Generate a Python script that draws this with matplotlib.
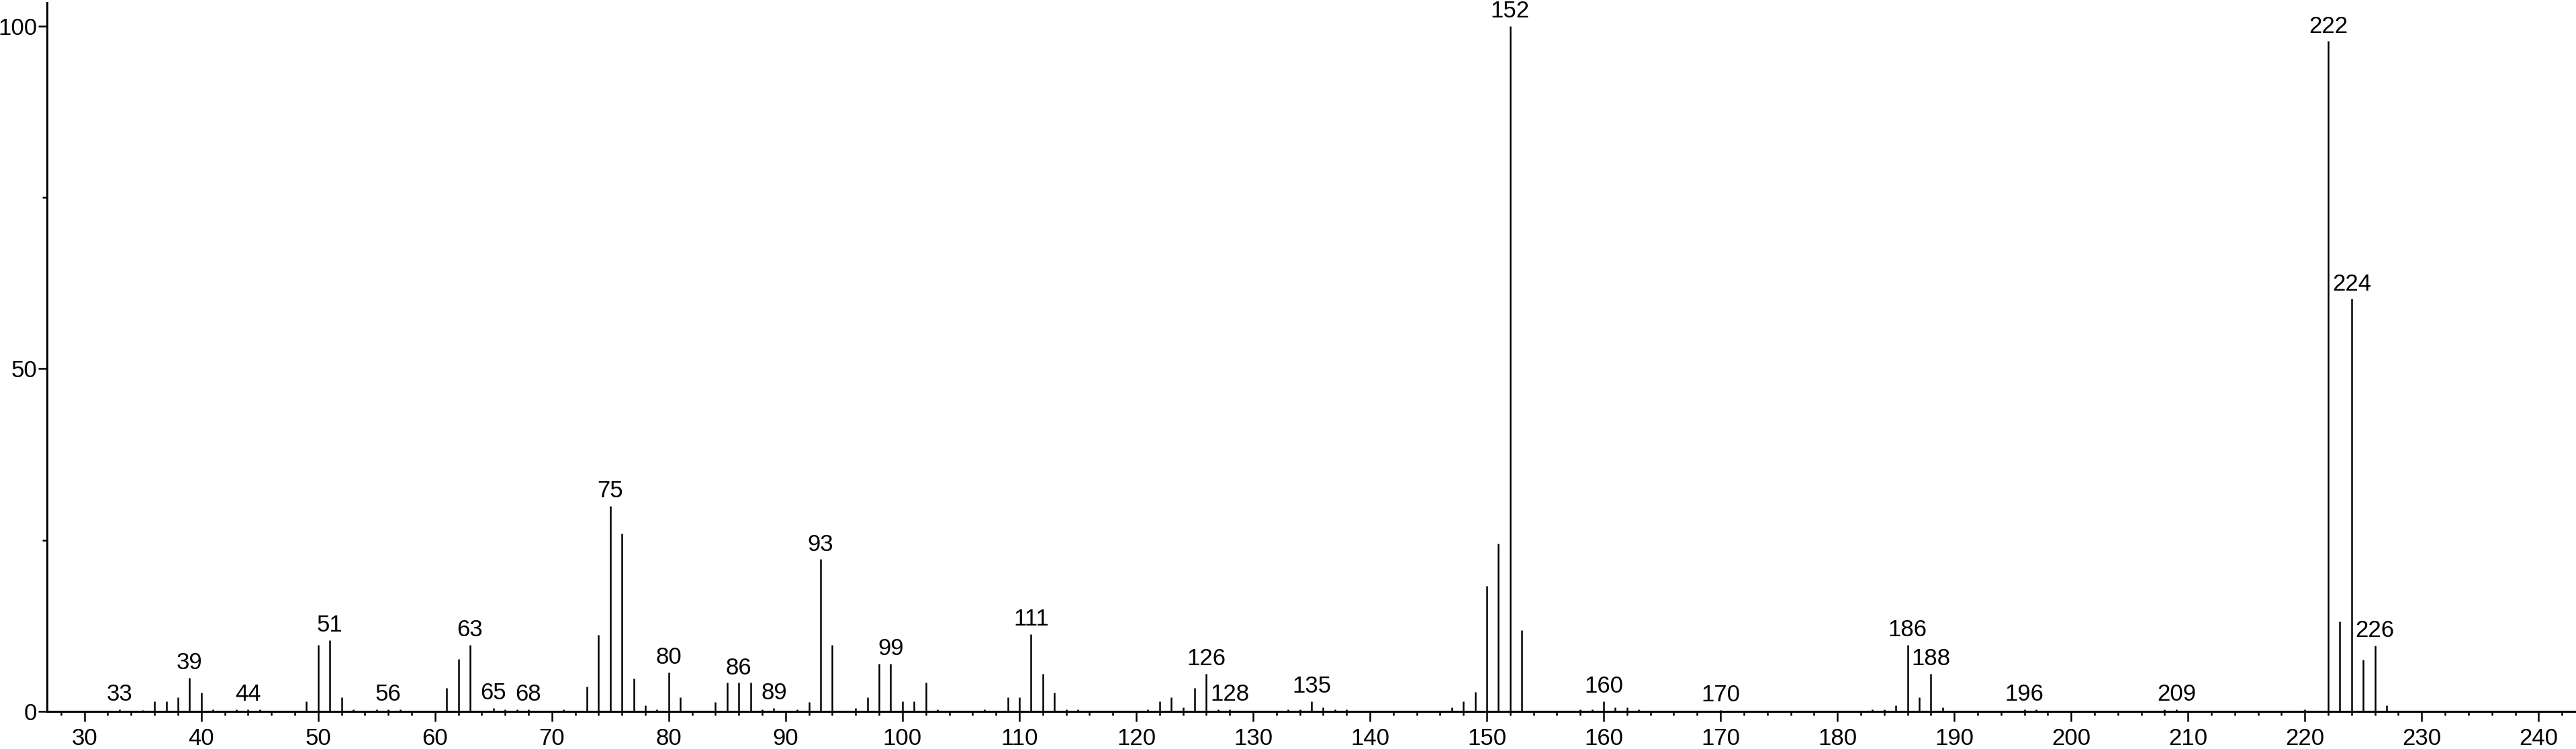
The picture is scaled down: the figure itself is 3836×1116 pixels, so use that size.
import matplotlib.pyplot as plt
from matplotlib.ticker import MultipleLocator

# m/z and relative intensity
mz = [33, 35, 36, 37, 38, 39, 40, 41, 43, 44, 45, 49, 50, 51, 52, 53, 55, 56, 57,
      61, 62, 63, 65, 66, 67, 68, 71, 73, 74, 75, 76, 77, 78, 79, 80, 81,
      84, 85, 86, 87, 88, 89, 91, 92, 93, 94, 96, 97, 98, 99, 100, 101, 102, 103,
      107, 109, 110, 111, 112, 113, 114, 115, 121, 122, 123, 124, 125, 126, 127, 128,
      133, 134, 135, 136, 137, 138, 147, 148, 149, 150, 151, 152, 153,
      158, 159, 160, 161, 162, 163, 170, 183, 184, 185, 186, 187, 188, 189,
      196, 197, 208, 209, 220, 222, 223, 224, 225, 226, 227]
intensity = [0.3, 0.2, 1.5, 1.5, 2.1, 4.9, 2.7, 0.3, 0.3, 0.3, 0.3, 1.5, 9.7, 10.4, 2.1, 0.3, 0.3, 0.3, 0.3,
             3.4, 7.6, 9.7, 0.5, 0.3, 0.3, 0.3, 0.3, 3.6, 11.2, 30.0, 25.9, 4.8, 0.85, 0.3, 5.7, 2.1,
             1.4, 4.2, 4.2, 4.2, 0.3, 0.5, 0.3, 1.4, 22.2, 9.7, 0.5, 2.1, 7.0, 7.0, 1.5, 1.5, 4.2, 0.3,
             0.3, 2.1, 2.1, 11.3, 5.5, 2.7, 0.3, 0.3, 0.3, 1.5, 2.1, 0.6, 3.4, 5.5, 0.3, 0.3,
             0.3, 0.3, 1.5, 0.6, 0.3, 0.3, 0.55, 1.5, 2.8, 18.3, 24.5, 100.0, 11.8,
             0.3, 0.3, 1.5, 0.6, 0.6, 0.3, 0.2, 0.3, 0.3, 0.9, 9.7, 2.1, 5.5, 0.6,
             0.3, 0.3, 0.3, 0.3, 0.3, 97.8, 13.1, 60.2, 7.5, 9.6, 0.9]

labelled = [33, 39, 44, 51, 56, 63, 65, 68, 75, 80, 86, 89, 93, 99, 111, 126, 128, 135,
            152, 160, 170, 186, 188, 196, 209, 222, 224, 226]

plt.rcParams['font.family'] = ['Liberation Sans', 'DejaVu Sans']

fig = plt.figure(figsize=(38.36, 11.16), dpi=100)
ax = fig.add_axes([70 / 3836, 56 / 1116, (3836 - 70) / 3836, 1056 / 1116])

ax.vlines(mz, 0, intensity, color="black", linewidth=1.8)

lookup = dict(zip(mz, intensity))
for m in labelled:
    ax.annotate(str(m), (m, lookup[m]), xytext=(0, 4), textcoords="offset points",
                ha="center", va="bottom", fontsize=25)

ax.set_xlim(26.8, 243.2)
ax.set_ylim(0, 103.4)

ax.xaxis.set_major_locator(MultipleLocator(10))
ax.xaxis.set_minor_locator(MultipleLocator(2))
ax.yaxis.set_major_locator(MultipleLocator(50))
ax.yaxis.set_minor_locator(MultipleLocator(25))

ax.tick_params(axis="x", which="major", length=11, width=1.8, labelsize=25, pad=6)
ax.tick_params(axis="x", which="minor", length=4.5, width=1.8)
ax.tick_params(axis="y", which="major", length=9.5, width=1.8, labelsize=25, pad=1)
ax.tick_params(axis="y", which="minor", length=5, width=1.8)

for side in ["top", "right"]:
    ax.spines[side].set_visible(False)
for side in ["left", "bottom"]:
    ax.spines[side].set_linewidth(2.2)

ax.patch.set_alpha(0)
for lbl in ax.get_xticklabels() + ax.get_yticklabels():
    lbl.set_clip_on(False)

fig.savefig("out.png", dpi=100)
